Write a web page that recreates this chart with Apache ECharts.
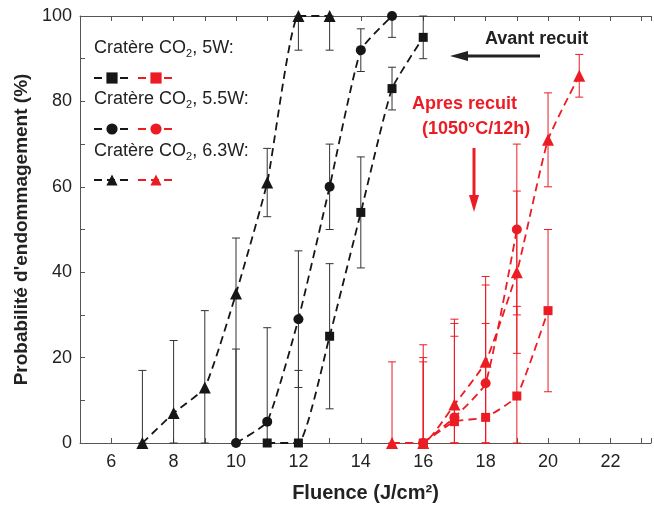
<!DOCTYPE html>
<html>
<head>
<meta charset="utf-8">
<script src="https://cdn.jsdelivr.net/npm/echarts@6/dist/echarts.min.js"></script>
<style>
  html, body { margin: 0; padding: 0; background: #fff; }
  #chart { width: 654px; height: 508px; }
</style>
</head>
<body>
<div id="chart"></div>
<script>
// Lignes : [fluence, probabilité, barre basse, barre haute]
const cratere5W = [[11, 0, 0, 0], [12, 0, 0, 17], [13, 25, 8, 42], [14, 54, 41, 67], [15, 83, 78, 88], [16, 95, 90, 100]];
const cratere55W = [[10, 0, 0, 22], [11, 5, 0, 27], [12, 29, 13, 45], [13, 60, 50, 70], [14, 92, 87, 97], [15, 100, 95, 100]];
const cratere63W = [[7, 0, 0, 17], [8, 7, 0, 24], [9, 13, 0, 31], [10, 35, 0, 48], [11, 61, 53, 69], [12, 100, 92, 100], [13, 100, 92, 100]];
const recuit5W = [[16, 0, 0, 20], [17, 5, 0, 25], [18, 6, 0, 28], [19, 11, 0, 32], [20, 31, 12, 50]];
const recuit55W = [[16, 0, 0, 19], [17, 6, 0, 28], [18, 14, 0, 37], [19, 50, 30, 70]];
const recuit63W = [[15, 0, 0, 19], [16, 0, 0, 23], [17, 9, 0, 29], [18, 19, 0, 39], [19, 40, 21, 59], [20, 71, 60, 82], [21, 86, 81, 91]];

const legendTitles = ['5W', '5.5W', '6.3W'];

const FONT = 'Liberation Sans, Arial, sans-serif';
const BLACK = '#161616';
const RED = '#ec1c24';

function curve(name, rows, color, symbol, size) {
    return {
        name: name,
        type: 'line',
        data: rows,
        encode: { x: 0, y: 1 },
        symbol: symbol,
        symbolSize: size,
        smooth: 0.15,
        z: 3,
        itemStyle: { color: color },
        lineStyle: { color: color, width: 1.8, type: [8, 5] }
    };
}

// barres d'erreur verticales avec petits traits
function errorBars(name, rows, color) {
    return {
        name: name + ' err',
        type: 'custom',
        data: rows,
        encode: { x: 0, y: [2, 3] },
        z: 1,
        renderItem: function (params, api) {
            const x = api.value(0);
            const lo = api.coord([x, api.value(2)]);
            const hi = api.coord([x, api.value(3)]);
            const w = 4;
            const style = { stroke: color, lineWidth: 1 };
            return {
                type: 'group',
                children: [
                    { type: 'line', shape: { x1: lo[0], y1: lo[1], x2: hi[0], y2: hi[1] }, style: style },
                    { type: 'line', shape: { x1: hi[0] - w, y1: hi[1], x2: hi[0] + w, y2: hi[1] }, style: style },
                    { type: 'line', shape: { x1: lo[0] - w, y1: lo[1], x2: lo[0] + w, y2: lo[1] }, style: style }
                ]
            };
        }
    };
}

function legendRow(black, red, top) {
    return {
        data: [black, red],
        left: 93,
        top: top,
        padding: 0,
        itemWidth: 36,
        itemHeight: 14,
        itemGap: 6,
        formatter: () => '',
        selectedMode: false
    };
}

function legendLabel(txt, y) {
    return {
        type: 'text',
        left: 94,
        top: y - 11,
        style: {
            text: '{a|Cratère CO}{s|2}{a|, ' + txt + ':}',
            rich: {
                a: { fontSize: 18, fontFamily: FONT, fill: '#222', lineHeight: 22 },
                s: { fontSize: 11, fontFamily: FONT, fill: '#222', verticalAlign: 'bottom', lineHeight: 11 }
            }
        }
    };
}

const chart = echarts.init(document.getElementById('chart'));

const axisCommon = {
    type: 'value',
    min: 5,
    max: 23.3,
    interval: 1,
    splitLine: { show: false },
    axisLine: { lineStyle: { color: '#555', width: 1 } },
    axisTick: { inside: true, length: 5, lineStyle: { color: '#555' } }
};

chart.setOption({
    animation: false,
    grid: { left: 80, right: 0, top: 16, bottom: 65 },
    legend: [
        legendRow('5W', '5W recuit', 71),
        legendRow('5.5W', '5.5W recuit', 122),
        legendRow('6.3W', '6.3W recuit', 173)
    ],
    xAxis: [
        Object.assign({}, axisCommon, {
            position: 'bottom',
            name: 'Fluence (J/cm²)',
            nameLocation: 'middle',
            nameGap: 40,
            nameTextStyle: { fontSize: 20, fontWeight: 'bold', fontFamily: FONT, color: '#222' },
            axisLabel: {
                fontSize: 18, fontFamily: FONT, color: '#222', margin: 10,
                formatter: v => (v % 2 === 0 ? String(v) : '')
            }
        }),
        Object.assign({}, axisCommon, {
            position: 'top',
            axisLabel: { show: false }
        })
    ],
    yAxis: {
        type: 'value',
        min: 0,
        max: 100,
        interval: 10,
        name: "Probabilité d'endommagement (%)",
        nameLocation: 'middle',
        nameGap: 46,
        nameTextStyle: { fontSize: 19, fontWeight: 'bold', fontFamily: FONT, color: '#222' },
        splitLine: { show: false },
        axisLine: { show: true, lineStyle: { color: '#555', width: 1 } },
        axisTick: { inside: true, length: 5, lineStyle: { color: '#555' } },
        axisLabel: {
            fontSize: 18, fontFamily: FONT, color: '#222', margin: 8,
            formatter: v => (v % 20 === 0 ? String(v) : '')
        }
    },
    graphic: [
        legendLabel(legendTitles[0], 50),
        legendLabel(legendTitles[1], 101),
        legendLabel(legendTitles[2], 153),
        {
            type: 'text', left: 485, top: 30,
            style: { text: 'Avant recuit', fontSize: 18, fontWeight: 'bold', fontFamily: FONT, fill: '#222' }
        },
        { type: 'line', shape: { x1: 540, y1: 56, x2: 465, y2: 56 }, style: { stroke: '#222', lineWidth: 3 } },
        { type: 'polygon', shape: { points: [[450, 56], [468, 51], [468, 61]] }, style: { fill: '#222' } },
        {
            type: 'text', left: 412, top: 95,
            style: { text: 'Apres recuit', fontSize: 18, fontWeight: 'bold', fontFamily: FONT, fill: RED }
        },
        {
            type: 'text', left: 422, top: 120,
            style: { text: '(1050°C/12h)', fontSize: 18, fontWeight: 'bold', fontFamily: FONT, fill: RED }
        },
        { type: 'line', shape: { x1: 474, y1: 148, x2: 474, y2: 198 }, style: { stroke: RED, lineWidth: 3 } },
        { type: 'polygon', shape: { points: [[474, 212], [469, 195], [479, 195]] }, style: { fill: RED } }
    ],
    series: [
        errorBars('5W', cratere5W, '#333'),
        errorBars('5.5W', cratere55W, '#333'),
        errorBars('6.3W', cratere63W, '#333'),
        errorBars('5W recuit', recuit5W, RED),
        errorBars('5.5W recuit', recuit55W, RED),
        errorBars('6.3W recuit', recuit63W, RED),
        curve('5W', cratere5W, BLACK, 'rect', 9),
        curve('5.5W', cratere55W, BLACK, 'circle', 10),
        curve('6.3W', cratere63W, BLACK, 'triangle', 12),
        curve('5W recuit', recuit5W, RED, 'rect', 9),
        curve('5.5W recuit', recuit55W, RED, 'circle', 10),
        curve('6.3W recuit', recuit63W, RED, 'triangle', 12)
    ]
});
</script>
</body>
</html>
